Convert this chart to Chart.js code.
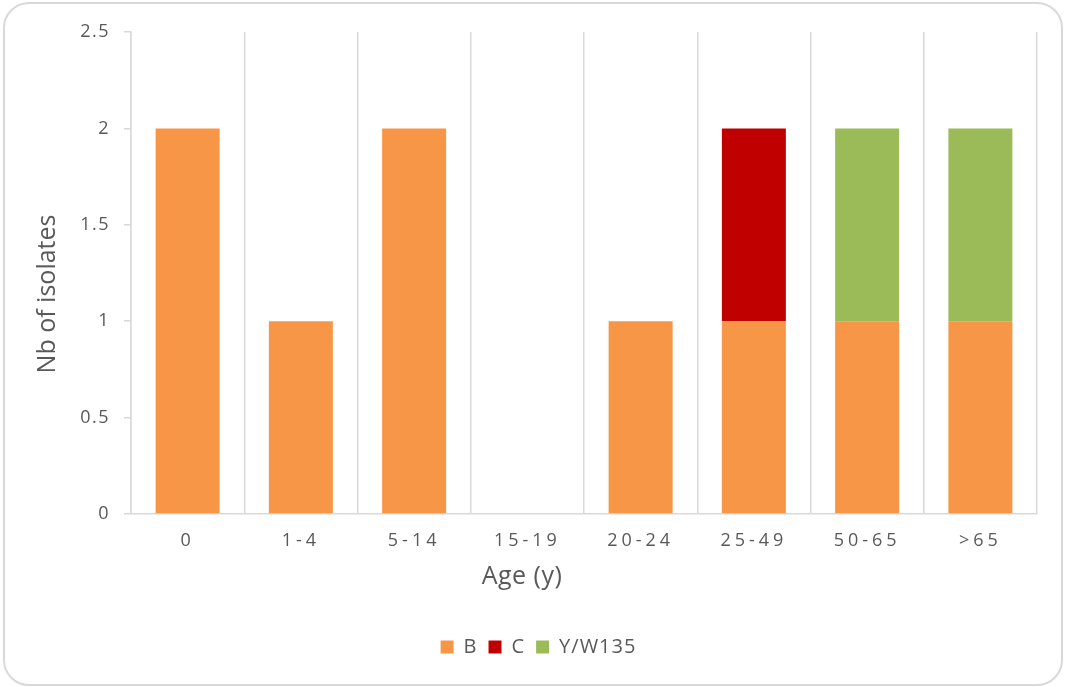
<!DOCTYPE html>
<html>
<head>
<meta charset="utf-8">
<script src="https://cdn.jsdelivr.net/npm/chart.js@4.4.1/dist/chart.umd.min.js"></script>
<style>
  html, body { margin: 0; padding: 0; background: #ffffff; }
  #frame {
    position: absolute; left: 3px; top: 2px; width: 1060px; height: 684px;
    box-sizing: border-box; border: 2px solid #d9d9d9; border-radius: 26px;
  }
  #chart { position: absolute; left: 0; top: 0; }
</style>
</head>
<body>
<div id="frame"></div>
<canvas id="chart" width="1067" height="687"></canvas>
<script>
// Age groups and isolate counts per serogroup
const ageGroups = ['0', '1-4', '5-14', '15-19', '20-24', '25-49', '50-65', '>65'];
const serogroupB = [2, 1, 2, 0, 1, 1, 1, 1];
const serogroupC = [0, 0, 0, 0, 0, 1, 0, 0];
const serogroupYW135 = [0, 0, 0, 0, 0, 0, 1, 1];
const yTicks = [0, 0.5, 1, 1.5, 2, 2.5];

const textColor = '#595959';
const lineColor = '#d9d9d9';
const fontFamily = "'Open Sans', 'Liberation Sans', sans-serif";

// Wraps a drawing method so it runs with letter spacing and an optional shift
function styled(obj, method, spacing, dx, dy) {
  if (!obj || obj['_styled_' + method]) return;
  const orig = obj[method];
  obj[method] = function (...args) {
    const ctx = this.ctx;
    ctx.save();
    ctx.letterSpacing = spacing;
    ctx.translate(dx, dy);
    const r = orig.apply(this, args);
    ctx.restore();
    return r;
  };
  obj['_styled_' + method] = true;
}

const textStyle = {
  id: 'textStyle',
  beforeLayout(chart) {
    styled(chart.legend, 'fit', '1px', 0, 0);
    styled(chart.legend, 'draw', '1px', 20, 0);
    styled(chart.scales.x, 'drawLabels', '4px', 0, 0);
    styled(chart.scales.x, 'drawTitle', '0.5px', -62, 0);
    styled(chart.scales.y, 'drawLabels', '1.5px', 0, 0);
    styled(chart.scales.y, 'drawTitle', '0px', 0, 21);
  }
};

new Chart(document.getElementById('chart'), {
  type: 'bar',
  data: {
    labels: ageGroups,
    datasets: [
      { label: 'B', data: serogroupB, backgroundColor: '#F79646' },
      { label: 'C', data: serogroupC, backgroundColor: '#C00000' },
      { label: 'Y/W135', data: serogroupYW135, backgroundColor: '#9BBB59' }
    ]
  },
  options: {
    responsive: false,
    animation: false,
    devicePixelRatio: 1,
    layout: { padding: { left: 0, right: 30, top: 32, bottom: 20 } },
    datasets: { bar: { barPercentage: 0.565, categoryPercentage: 1, borderWidth: 0 } },
    plugins: {
      tooltip: { enabled: false },
      legend: {
        position: 'bottom',
        align: 'center',
        labels: {
          color: textColor,
          font: { family: fontFamily, size: 20 },
          boxWidth: 13,
          boxHeight: 13,
          padding: 11
        }
      }
    },
    scales: {
      x: {
        stacked: true,
        offset: true,
        grid: { display: true, offset: true, color: lineColor, lineWidth: 1.5, drawTicks: false },
        border: { display: true, color: lineColor, width: 1.5 },
        ticks: {
          color: textColor,
          font: { family: fontFamily, size: 18 },
          padding: 16,
          maxRotation: 0,
          autoSkip: false
        },
        title: {
          display: true,
          text: 'Age (y)',
          color: textColor,
          font: { family: fontFamily, size: 25 },
          padding: { top: 0, bottom: 34 }
        },
        afterFit(scale) { scale.height = 112; }
      },
      y: {
        stacked: true,
        min: 0,
        max: 2.5,
        afterBuildTicks(scale) { scale.ticks = yTicks.map(v => ({ value: v })); },
        grid: { drawOnChartArea: false, drawTicks: true, tickLength: 7, color: lineColor, lineWidth: 1.5 },
        border: { display: true, color: lineColor, width: 1.5 },
        ticks: {
          color: textColor,
          font: { family: fontFamily, size: 18 },
          padding: 14,
          callback: v => String(v)
        },
        title: {
          display: true,
          text: 'Nb of isolates',
          color: textColor,
          font: { family: fontFamily, size: 25 },
          padding: { top: 33, bottom: 0 }
        },
        afterFit(scale) { scale.width = 131; }
      }
    }
  },
  plugins: [textStyle]
});
</script>
</body>
</html>
